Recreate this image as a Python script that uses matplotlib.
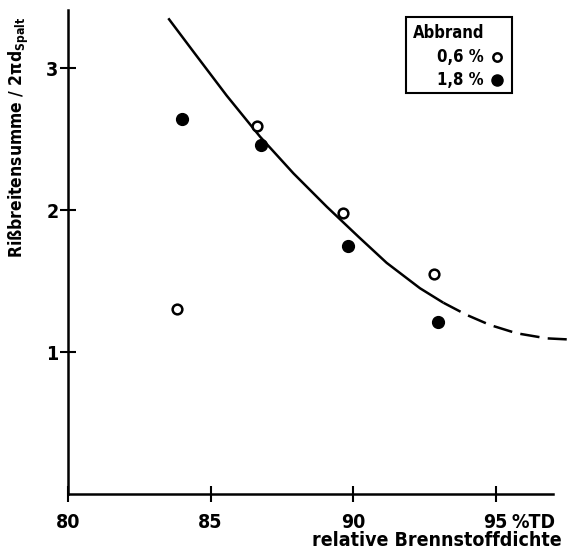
import matplotlib
matplotlib.use("Agg")
import matplotlib.pyplot as plt
from matplotlib.patches import Rectangle
from matplotlib.lines import Line2D

plt.rcParams['font.family'] = ['DejaVu Sans']
plt.rcParams['font.stretch'] = 'condensed'
plt.rcParams['font.weight'] = 'bold'
plt.rcParams['mathtext.fontset'] = 'custom'
plt.rcParams['mathtext.rm'] = 'DejaVu Sans:bold'
plt.rcParams['mathtext.it'] = 'DejaVu Sans:bold'
plt.rcParams['lines.scale_dashes'] = False

# Messwerte
dichte_06 = [83.82, 86.64, 89.64, 92.84]
riss_06 = [1.30, 2.59, 1.98, 1.55]
dichte_18 = [83.99, 86.77, 89.81, 92.99]
riss_18 = [2.64, 2.46, 1.75, 1.21]

# Ausgleichskurve (durchgezogen) und Extrapolation (gestrichelt)
kurve_x = [83.52, 84.40, 85.57, 86.74, 87.91, 89.08, 90.19, 91.18, 92.35, 93.17]
kurve_y = [3.350, 3.115, 2.805, 2.516, 2.258, 2.023, 1.812, 1.628, 1.449, 1.347]
extra_x = [93.17, 93.99, 94.81, 95.74, 96.80, 97.50]
extra_y = [1.347, 1.261, 1.190, 1.132, 1.096, 1.089]

x_ticks = [80, 85, 90, 95]
y_ticks = [1, 2, 3]

fig = plt.figure(figsize=(5.76, 5.53), dpi=100)
ax = fig.add_axes([68 / 576, 1 - 494 / 553, (567 - 68) / 576, (494 - 10) / 553])

ax.plot(kurve_x, kurve_y, color='black', lw=1.8, solid_capstyle='butt')
ax.plot(extra_x, extra_y, color='black', lw=1.8, dashes=(14, 6), clip_on=False)

ax.plot(dichte_06, riss_06, 'o', ms=7, mfc='white', mec='black', mew=1.8)
ax.plot(dichte_18, riss_18, 'o', ms=8.5, mfc='black', mec='black')

ax.set_xlim(80, 80 + (567 - 68) / 28.5)
ax.set_ylim(0, (494 - 10) / 142)
ax.spines['top'].set_visible(False)
ax.spines['right'].set_visible(False)
ax.spines['left'].set_linewidth(1.8)
ax.spines['bottom'].set_linewidth(1.8)
ax.spines['bottom'].set_bounds(80, 97.0)

ax.set_xticks(x_ticks)
ax.set_yticks(y_ticks)
ax.set_xticklabels([str(t) for t in x_ticks])
ax.tick_params(direction='inout', length=12, width=1.5, labelsize=14)
ax.tick_params(axis='x', pad=8)
ax.tick_params(axis='y', pad=1)
fig.text(512 / 576, 1 - 522 / 553, '%TD', fontsize=14, fontweight='bold',
         ha='left', va='center')

ax.set_ylabel(r'Rißbreitensumme / 2$\pi$d$_{\rm Spalt}$', fontsize=12.5,
              fontweight='bold')
ax.yaxis.set_label_coords(-0.074, (494 - 137) / 484)
fig.text(562 / 576, 1 - 540 / 553, 'relative Brennstoffdichte', fontsize=14,
         fontweight='bold', ha='right', va='center')

# Legende
fig.add_artist(Rectangle((406 / 576, 1 - 93 / 553), 106 / 576, 76 / 553,
                         transform=fig.transFigure, fill=False, lw=1.5, color='black'))
fig.text(413 / 576, 1 - 33 / 553, 'Abbrand', fontsize=12, ha='left', va='center')
fig.text(484 / 576, 1 - 57 / 553, '0,6 %', fontsize=12, ha='right', va='center')
fig.text(484 / 576, 1 - 80 / 553, '1,8 %', fontsize=12, ha='right', va='center')
fig.add_artist(Line2D([497 / 576], [1 - 57 / 553], marker='o', ms=6, mfc='white',
                      mec='black', mew=1.8, transform=fig.transFigure))
fig.add_artist(Line2D([497 / 576], [1 - 80 / 553], marker='o', ms=8, mfc='black',
                      mec='black', transform=fig.transFigure))

fig.savefig('out.png', dpi=100)
